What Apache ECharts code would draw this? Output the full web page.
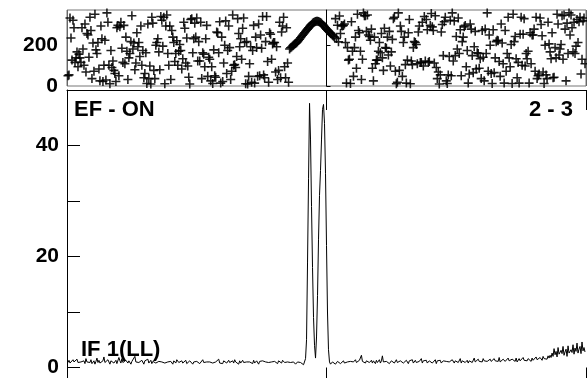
<!DOCTYPE html>
<html><head><meta charset="utf-8">
<script src="https://cdn.jsdelivr.net/npm/echarts@6/dist/echarts.min.js"></script>
<style>html,body{margin:0;padding:0;background:#fff}#c{width:587px;height:378px}</style>
</head><body><div id="c"></div>
<script>
// x axis: frequency offset units (approx. 1 unit per pixel), ticks at -260, 0, 260
var X_MIN = -260, X_MAX = 260;
var phaseTicks = [0, 200];
var ampTicks = [0, 20, 40];

// Top panel: phase (deg) scatter, one point per x
var phaseLeft = [ // ends at x = -38
50,54,331,234,126,320,284,115,137,166,94,155,137,115,284,180,101,302,68,256,
248,140,335,270,36,209,72,349,176,158,212,83,25,292,230,22,101,223,29,356,
310,101,11,173,90,122,76,61,22,284,295,50,288,310,184,115,295,108,238,169,
32,137,158,216,342,180,209,79,112,259,191,212,144,292,101,173,40,61,162,12,
302,36,97,10,335,306,76,36,198,212,230,166,79,338,320,194,335,11,292,346,
158,101,292,32,270,238,212,119,158,220,101,169,202,173,83,133,310,281,112,234,
97,43,10,324,328,162,230,306,238,331,122,216,122,310,36,162,155,94,230,295,
47,140,130,25,94,12,176,50,43,263,259,162,313,14,238,22,112,198,317,61,
173,292,187,32,72,346,101,104,90,144,328,256,191,230,130,281,331,212,11,216,
10,47,108,191,18,173,295,14,238,187,47,302,50,248,184,338,54,40,216,338,
119,18,259,252,130,205,212,212,68,191,32,76,310,40,263,292,335,94,40,284,
112,18];
var phaseCurve = [ // x = -37 .. 8 (coherent region)
180,186,190,195,199,203,207,211,216,222,228,235,241,247,253,259,265,271,277,283,
289,295,300,305,309,312,314,315,315,314,312,309,305,300,295,289,283,277,272,267,
262,257,252,247,242,238];
var phaseRight = [ // starts at x = 9
328,231,296,215,341,
256,295,292,295,302,212,14,187,126,130,12,313,169,47,187,238,86,349,270,259,
169,32,130,356,342,342,266,346,248,241,223,277,86,25,238,108,126,126,169,212,
162,256,137,76,281,187,184,238,151,266,97,166,227,328,335,72,11,18,356,76,
292,266,47,212,238,104,14,126,259,324,11,122,104,187,216,212,202,108,263,292,
115,115,310,97,338,122,324,274,115,119,295,353,288,270,112,342,90,36,68,10,
54,263,299,148,313,335,25,12,54,144,320,50,356,122,317,148,241,180,331,158,
274,50,216,238,288,295,94,173,14,58,302,277,148,65,191,266,83,162,158,86,
133,36,270,140,25,277,158,356,72,248,198,61,12,274,65,137,216,223,220,119,
47,302,209,108,14,270,72,158,335,137,94,202,12,349,216,241,133,40,115,14,
252,335,101,252,328,97,158,133,169,14,259,108,248,248,277,72,335,36,50,58,
331,299,245,68,12,198,54,36,310,205,166,133,259,40,43,187,137,349,302,151,
180,202,342,130,346,277,25,306,158,356,248,346,284,166,310,158,194,324,212,313,
335,58,130,317,331,108];

// Bottom panel: amplitude line, one sample per x
var ampLeft = [ // ends at x = -25
0.9,1.3,0.8,1.1,0.6,1.4,1.0,0.7,1.2,1.5,0.9,1.1,0.6,1.0,1.3,0.8,1.2,0.7,1.6,1.0,
0.8,1.1,0.9,1.4,0.7,1.0,1.2,0.6,1.1,1.7,0.9,1.3,0.8,1.0,0.7,1.2,1.9,0.9,1.1,0.8,
1.4,1.0,0.6,1.2,0.9,1.5,0.8,1.1,1.3,0.7,1.0,1.8,1.2,0.8,1.6,0.9,1.1,0.7,1.3,1.0,
0.8,1.2,1.0,0.6,1.1,0.9,1.4,2.0,1.0,0.7,1.2,0.9,1.1,0.8,1.3,1.0,0.6,1.2,0.9,1.1,
1.5,0.8,1.0,1.3,0.7,1.1,0.9,1.2,0.8,1.0,0.6,1.1,1.4,0.9,1.0,0.7,1.2,0.8,1.1,0.9,
1.0,1.3,0.8,1.1,0.9,0.6,1.2,1.0,0.8,1.4,1.1,0.9,0.7,1.0,1.2,0.8,1.1,0.9,1.3,0.7,
1.0,0.8,1.2,0.9,1.1,0.6,1.0,1.3,0.8,1.1,0.9,1.2,0.7,1.0,0.8,1.4,0.9,1.1,0.8,1.0,
1.2,0.7,1.0,0.9,1.3,0.8,1.1,0.6,1.0,1.2,0.9,1.5,0.8,1.0,1.1,0.7,1.2,0.9,1.0,0.8,
1.1,1.3,0.9,0.7,1.0,1.2,0.8,1.4,1.0,0.9,1.1,0.6,1.2,0.8,1.0,1.3,0.9,1.1,0.7,1.0,
0.8,1.2,1.0,0.9,1.1,0.7,1.3,0.8,1.0,1.2,0.9,0.6,1.1,1.0,0.8,1.2,0.9,1.4,1.0,0.8,
1.1,0.9,1.2,0.7,1.0,1.3,0.8,1.1,0.9,1.0,0.7,1.2,0.9,1.1,0.8,1.3,1.0,0.9,1.2,0.8,
1.0,0.7,1.1,0.9,1.2,0.8,1.0,1.1,0.6,0.9,1.0,0.8,0.7,0.9,0.8];
var ampPeak = [ // x = -24 .. 4
0.8,0.5,0.6,1.6,5.0,19,34,47.6,41,29,18,9,4,1.7,5.5,13,23,31,35.5,41,
46.5,47.4,44,35,22,10,3.2,1.0,0.6];
var ampRight = [ // starts at x = 5
0.7,1.0,0.8,1.2,0.6,0.9,1.1,0.8,1.3,0.7,1.0,0.9,1.2,0.8,1.1,0.6,1.0,1.3,0.9,1.1,
0.8,1.2,1.0,0.7,1.4,0.9,1.1,0.8,1.3,1.0,2.2,1.1,0.9,1.4,0.8,1.2,1.0,1.5,0.9,1.1,
1.3,0.8,1.2,1.0,0.7,1.3,0.9,1.1,1.4,0.8,1.2,2.1,1.0,1.3,0.8,1.1,0.9,1.2,0.7,1.0,
1.2,0.9,1.3,0.8,1.0,1.4,0.9,1.1,0.7,1.2,1.0,1.5,0.8,1.1,0.9,1.3,1.0,0.7,1.2,0.9,
1.1,1.4,0.8,1.0,1.3,0.9,1.2,0.7,1.1,1.0,1.6,0.8,1.2,0.9,1.1,1.3,0.8,1.0,1.2,0.9,
1.3,0.8,1.1,1.0,1.4,0.7,1.2,0.9,1.1,1.3,0.8,1.0,1.2,0.9,1.5,1.1,0.8,1.3,1.0,1.2,
0.9,1.4,1.1,0.8,1.2,1.0,1.3,0.9,1.1,1.6,0.8,1.2,1.0,1.4,0.9,1.1,1.3,0.8,1.2,1.0,
1.4,0.9,1.2,1.7,1.0,1.3,0.8,1.5,1.1,0.9,1.3,1.0,1.6,1.2,0.9,1.4,1.1,1.3,1.0,1.5,
1.1,1.3,0.9,1.6,1.2,1.0,1.4,1.1,1.8,1.0,1.3,0.9,1.5,1.2,1.1,1.4,1.0,1.7,1.2,1.3,
1.0,1.5,1.2,1.4,1.1,1.7,1.0,1.3,1.6,1.2,1.4,1.0,1.8,1.3,1.1,1.5,1.2,1.6,1.3,1.4,
1.1,1.7,1.3,1.5,1.2,1.9,1.4,1.6,1.2,1.8,1.5,1.3,2.0,1.6,1.4,1.9,1.5,2.1,1.7,2.2,
1.8,2.6,2.0,3.4,2.3,2.9,1.9,3.6,2.4,2.1,3.1,2.5,3.8,2.2,2.8,3.3,2.0,3.9,2.6,2.3,
3.2,2.7,4.1,2.4,3.5,2.9,4.4,2.6,3.3,3.8,2.5,4.6,3.0,3.6,2.8];

var labelTopLeft = 'EF - ON';
var labelTopRight = '2 - 3';
var labelBottom = 'IF 1(LL)';

function seg(vals, startX) {
  var out = [];
  for (var i = 0; i < vals.length; i++) out.push([startX + i, vals[i]]);
  return out;
}
var phaseData = seg(phaseLeft, -38 - phaseLeft.length + 1)
  .concat(seg(phaseCurve, -37)).concat(seg(phaseRight, 9));
var ampData = seg(ampLeft, -25 - ampLeft.length + 1)
  .concat(seg(ampPeak, -24)).concat(seg(ampRight, 5));

var FONT = '"Liberation Sans", Arial, sans-serif';
var labelStyle = {color: '#000', fontWeight: 'bold', fontSize: 21, fontFamily: FONT};
var chart = echarts.init(document.getElementById('c'), null, {renderer: 'canvas'});
chart.setOption({
  animation: false,
  backgroundColor: '#fff',
  grid: [
    {left: 67, right: 1, top: 10, height: 76, show: true, borderColor: '#777', borderWidth: 1},
    {left: 67, right: 1, top: 90, bottom: 10}
  ],
  xAxis: [
    {gridIndex: 0, type: 'value', min: X_MIN, max: X_MAX, interval: 260,
     axisLine: {show: false}, axisTick: {show: false}, axisLabel: {show: false},
     splitLine: {show: true, lineStyle: {color: '#666', width: 1}}},
    {gridIndex: 1, type: 'value', position: 'bottom', min: X_MIN, max: X_MAX, interval: 260,
     axisLine: {show: false}, axisTick: {show: true, inside: false, length: 14, lineStyle: {color: '#000'}},
     axisLabel: {show: false}, splitLine: {show: false}},
    {gridIndex: 1, type: 'value', position: 'top', min: X_MIN, max: X_MAX, interval: 260,
     axisLine: {show: true, onZero: false, lineStyle: {color: '#000', width: 1}},
     axisTick: {show: true, inside: true, length: 20, lineStyle: {color: '#000'}},
     axisLabel: {show: false}, splitLine: {show: false}}
  ],
  yAxis: [
    {gridIndex: 0, type: 'value', min: 0, max: 370,
     axisLine: {show: true, lineStyle: {color: '#000'}},
     axisTick: {show: true, inside: true, length: 4, customValues: phaseTicks, lineStyle: {color: '#000'}},
     axisLabel: Object.assign({customValues: phaseTicks, margin: 9, padding: [8, 0, 0, 0]}, labelStyle),
     splitLine: {show: false}},
    {gridIndex: 1, type: 'value', min: 0, max: 50, interval: 10,
     axisLine: {show: true, onZero: false, lineStyle: {color: '#000'}},
     axisTick: {show: true, inside: true, length: 13, lineStyle: {color: '#000'}},
     axisLabel: Object.assign({margin: 8, customValues: ampTicks, padding: [7, 0, 0, 0]}, labelStyle),
     splitLine: {show: false}}
  ],
  series: [
    {type: 'scatter', xAxisIndex: 0, yAxisIndex: 0, data: phaseData,
     symbol: 'path://M0,6.6h16v2.8h-16z M6.6,0h2.8v6.6h-2.8z M6.6,9.4h2.8v6.6h-2.8z', symbolSize: 9,
     itemStyle: {color: '#000', opacity: 0.88}, silent: true, clip: false},
    {type: 'line', xAxisIndex: 1, yAxisIndex: 1, data: ampData, showSymbol: false,
     lineStyle: {color: '#000', width: 1}, silent: true}
  ],
  graphic: [
    {type: 'text', x: 74, y: 99, style: {text: labelTopLeft, font: 'bold 22px ' + FONT, fill: '#000', textVerticalAlign: 'top'}},
    {type: 'text', x: 573, y: 99, style: {text: labelTopRight, font: 'bold 22px ' + FONT, fill: '#000', textAlign: 'right', textVerticalAlign: 'top'}},
    {type: 'text', x: 81, y: 339, style: {text: labelBottom, font: 'bold 22px ' + FONT, fill: '#000', textVerticalAlign: 'top'}}
  ]
});
</script></body></html>
